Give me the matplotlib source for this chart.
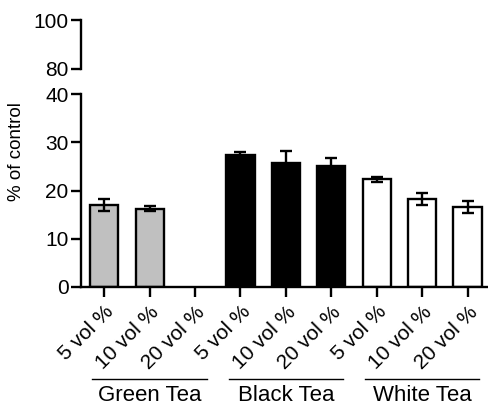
import matplotlib
matplotlib.use("Agg")
import matplotlib.pyplot as plt
from matplotlib.lines import Line2D

plt.rcParams['font.family'] = ['Liberation Sans', 'DejaVu Sans']

groups = ["Green Tea", "Black Tea", "White Tea"]
doses = ["5 vol %", "10 vol %", "20 vol %"]
values = [17.0, 16.2, 0.0, 27.3, 25.6, 25.1, 22.3, 18.2, 16.6]
errors = [1.2, 0.5, 0.0, 0.7, 2.6, 1.7, 0.5, 1.3, 1.2]
face_colors = ["#c0c0c0"] * 3 + ["#000000"] * 3 + ["#ffffff"] * 3
tick_labels = doses * 3

W, H = 488, 407
fig = plt.figure(figsize=(W / 100, H / 100), dpi=100)

def px_axes(l, t, r, b):
    return fig.add_axes([l / W, (H - b) / H, (r - l) / W, (b - t) / H])

lw = 1.7
ax = px_axes(81, 94, 488, 287)
top = px_axes(81, 20, 100, 69)

x = list(range(len(values)))
for xi, v, e, c in zip(x, values, errors, face_colors):
    if v <= 0:
        continue
    ax.bar(xi, v, width=0.62, color=c, edgecolor="black", linewidth=lw, zorder=2)
    ax.errorbar(xi, v, yerr=e, fmt="none", ecolor="black", elinewidth=lw,
                capsize=4, capthick=lw, zorder=3)

ax.set_xlim(-0.51, 8.45)
ax.set_ylim(0, 40)
ax.set_yticks([0, 10, 20, 30, 40])
ax.set_xticks(x)
ax.set_xticklabels(tick_labels, rotation=45, ha="right", rotation_mode="anchor")
for s in ["top", "right"]:
    ax.spines[s].set_visible(False)
for s in ["left", "bottom"]:
    ax.spines[s].set_linewidth(lw)
ax.tick_params(axis="both", direction="out", length=7, width=lw, labelsize=15)
ax.tick_params(axis="y", pad=2)
ax.tick_params(axis="x", pad=4)
ax.set_ylabel("% of control", fontsize=13.5)
ax.yaxis.set_label_coords(-0.138, 0.70)

top.set_ylim(80, 100)
top.set_yticks([80, 100])
top.set_xticks([])
for s in ["top", "right", "bottom"]:
    top.spines[s].set_visible(False)
top.spines["left"].set_linewidth(lw)
top.tick_params(axis="y", direction="out", length=7, width=lw, labelsize=15, pad=2)
top.patch.set_visible(False)

trans = ax.get_xaxis_transform()
for gi, g in enumerate(groups):
    c = gi * 3 + 1
    ax.add_line(Line2D([c - 1.26, c + 1.26], [-0.477, -0.477], transform=trans,
                       color="black", linewidth=1.0, clip_on=False))
    ax.text(c, -0.56, g, transform=trans, ha="center", va="center", fontsize=16)

fig.savefig("out.png", dpi=100)
